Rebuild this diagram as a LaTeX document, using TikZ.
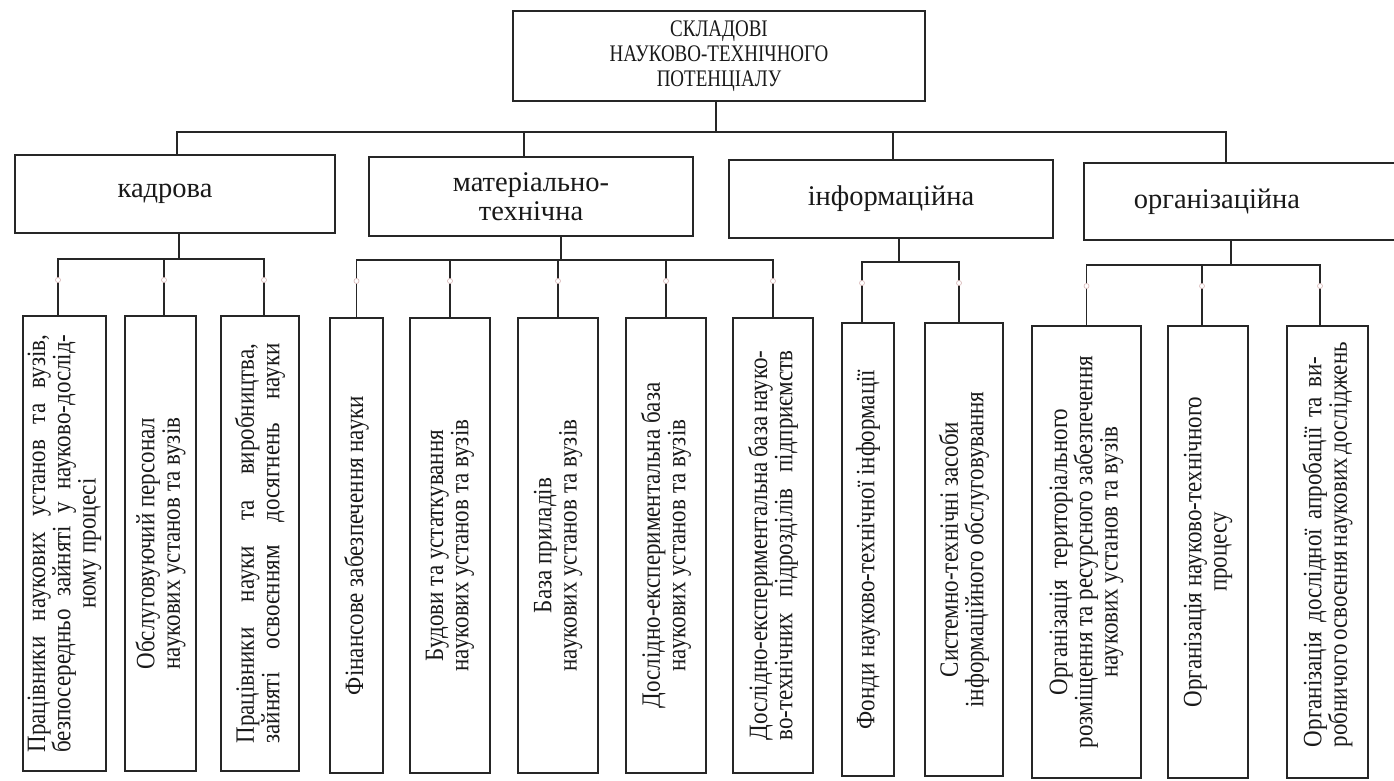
\documentclass[tikz,border=0pt]{standalone}
\usepackage{fontspec}
\setmainfont{Liberation Serif}
\usepackage{graphicx}
\newcommand{\vt}[2]{\rotatebox{90}{\scalebox{1}[1.15]{\parbox{#1}{\centering #2}}}}
\newcommand{\jl}[1]{\makebox[\linewidth][s]{#1}}
\begin{document}
\begin{tikzpicture}[x=1pt,y=-1pt,
  line/.style={draw=black!85, line width=1.4pt},
  topbox/.style={line, rectangle, inner sep=0pt, align=center, text=black!90,
     font=\fontsize{19}{20}\selectfont},
  midbox/.style={line, rectangle, inner sep=0pt, align=center, text=black!90,
     font=\fontsize{28.5}{29}\selectfont},
  leafbox/.style={line, rectangle, inner sep=0pt, text=black!90,
     font=\fontsize{23}{22}\selectfont},
  conn/.style={line},
  jdot/.style={draw=red!30!gray!45, fill=white, line width=0.6pt}]
\useasboundingbox (0,0) rectangle (1394,780);
\fill[white] (0,0) rectangle (1394,780);

% level 1
\node[topbox, minimum width=412pt, minimum height=90pt] (top) at (719,56)
  {\scalebox{1}[1.25]{\begin{tabular}{@{}c@{}}СКЛАДОВІ\\НАУКОВО-ТЕХНІЧНОГО\\ПОТЕНЦІАЛУ\end{tabular}}};

% level 2
\node[midbox, minimum width=320pt, minimum height=78pt] (kad) at (175,194) {\kern-20pt кадрова};
\node[midbox, minimum width=324pt, minimum height=79pt] (mat) at (531,196.5) {матеріально-\\технічна};
\node[midbox, minimum width=324pt, minimum height=78pt] (inf) at (891,199) {інформаційна};
\node[midbox, minimum width=318pt, minimum height=77pt] (org) at (1243,201.5) {\kern-52pt організаційна};

% level 3
\node[leafbox, minimum width=83pt, minimum height=455pt] (k1) at (64.5,543.5)
  {\vt{418pt}{\jl{Працівники наукових установ та вузів,}\\\jl{безпосередньо зайняті у науково-дослід-}\\ному процесі}};
\node[leafbox, minimum width=71pt, minimum height=455pt] (k2) at (160.5,543.5)
  {\vt{430pt}{Обслуговуючий персонал\\наукових установ та вузів}};
\node[leafbox, minimum width=78pt, minimum height=455pt] (k3) at (260,543.5)
  {\vt{400pt}{\jl{Працівники науки та виробництва,}\\\jl{зайняті освоєнням досягнень науки}}};

\node[leafbox, minimum width=53pt, minimum height=455pt] (m1) at (356.5,545.5)
  {\vt{430pt}{Фінансове забезпечення науки}};
\node[leafbox, minimum width=80pt, minimum height=455pt] (m2) at (450,545.5)
  {\vt{430pt}{Будови та устаткування\\наукових установ та вузів}};
\node[leafbox, minimum width=80pt, minimum height=455pt] (m3) at (558,545.5)
  {\vt{430pt}{База приладів\\наукових установ та вузів}};
\node[leafbox, minimum width=80pt, minimum height=455pt] (m4) at (666,545.5)
  {\vt{430pt}{Дослідно-експериментальна база\\наукових установ та вузів}};
\node[leafbox, minimum width=80pt, minimum height=455pt] (m5) at (773,545.5)
  {\vt{390pt}{\jl{Дослідно-експериментальна база науко-}\\\jl{во-технічних підрозділів підприємств}}};

\node[leafbox, minimum width=52pt, minimum height=453pt] (i1) at (868,549.5)
  {\vt{430pt}{Фонди науково-технічної інформації}};
\node[leafbox, minimum width=78pt, minimum height=453pt] (i2) at (964,549.5)
  {\vt{430pt}{Системно-технічні засоби\\інформаційного обслуговування}};

\node[leafbox, minimum width=109pt, minimum height=452pt] (o1) at (1086.5,552)
  {\vt{430pt}{Організація\hspace{12pt}територіального\\розміщення та ресурсного забезпечення\\наукових установ та вузів}};
\node[leafbox, minimum width=80pt, minimum height=452pt] (o2) at (1208,552)
  {\vt{430pt}{Організація науково-технічного\\процесу}};
\node[leafbox, minimum width=81pt, minimum height=452pt] (o3) at (1327.5,552)
  {\vt{390pt}{\jl{Організація дослідної апробації та ви-}\\\jl{робничого освоєння наукових досліджень}}};

% bus levels
\coordinate (b1) at (0,132);
\coordinate (bk) at (0,259);
\coordinate (bm) at (0,260);
\coordinate (bi) at (0,262);
\coordinate (bo) at (0,265);

% level 1 -> level 2
\draw[conn] ([xshift=-3pt]top.south) |- ([xshift=2pt]kad.north |- b1) -- ([xshift=2pt]kad.north);
\draw[conn] ([xshift=-3pt]top.south) |- ([xshift=-7pt]mat.north |- b1) -- ([xshift=-7pt]mat.north);
\draw[conn] ([xshift=-3pt]top.south) |- ([xshift=2pt]inf.north |- b1) -- ([xshift=2pt]inf.north);
\draw[conn] ([xshift=-3pt]top.south) |- ([xshift=-17pt]org.north |- b1) -- ([xshift=-17pt]org.north);

% кадрова
\draw[conn] ([xshift=4pt]kad.south) |- ([xshift=-6.5pt]k1.north |- bk) -- ([xshift=-6.5pt]k1.north);
\draw[conn] ([xshift=4pt]kad.south) |- ([xshift=3.5pt]k2.north |- bk) -- ([xshift=3.5pt]k2.north);
\draw[conn] ([xshift=4pt]kad.south) |- ([xshift=4pt]k3.north |- bk) -- ([xshift=4pt]k3.north);

% матеріально-технічна
\foreach \n in {m1,m2,m3,m4,m5}
  \draw[conn] ([xshift=30pt]mat.south) |- (\n.north |- bm) -- (\n.north);

% інформаційна
\draw[conn] ([xshift=8pt]inf.south) |- ([xshift=-6pt]i1.north |- bi) -- ([xshift=-6pt]i1.north);
\draw[conn] ([xshift=8pt]inf.south) |- ([xshift=-5pt]i2.north |- bi) -- ([xshift=-5pt]i2.north);

% організаційна
\draw[conn] ([xshift=-12pt]org.south) |- (o1.north |- bo) -- (o1.north);
\draw[conn] ([xshift=-12pt]org.south) |- ([xshift=-6pt]o2.north |- bo) -- ([xshift=-6pt]o2.north);
\draw[conn] ([xshift=-12pt]org.south) |- ([xshift=-7.5pt]o3.north |- bo) -- ([xshift=-7.5pt]o3.north);

% small junction marks
\foreach \x/\y in {58/280,164/280,264/280,356.5/281,450/281,558/281,666/281,773/281,862/283,959/283,1086.5/286,1202/286,1320/286}
  \filldraw[jdot] (\x,\y) circle (2.5pt);
\end{tikzpicture}
\end{document}
